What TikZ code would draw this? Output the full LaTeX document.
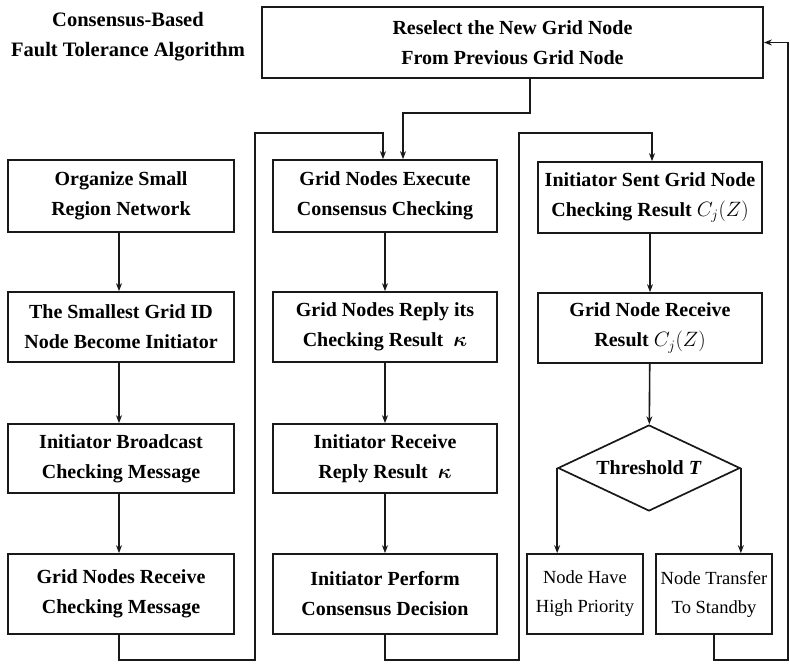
\documentclass[tikz,border=0pt]{standalone}
\usepackage{fontspec}
\setmainfont{Liberation Serif}
\usepackage{bm}
\usetikzlibrary{shapes.geometric,arrows.meta}

\begin{document}
\begin{tikzpicture}[x=1pt,y=-1pt,
  wire/.style={draw=black!90, line width=1.6pt},
  flow/.style={wire, -{Stealth[length=8pt,width=6pt]}},
  box/.style={draw=black!90, line width=1.7pt, inner sep=0pt, align=center,
    font=\fontsize{20}{30}\selectfont\bfseries},
  colbox/.style={box, minimum width=224pt},
  smallbox/.style={box, minimum width=116pt, minimum height=80pt,
    font=\fontsize{18.5}{29}\selectfont},
  decision/.style={box, diamond, aspect=2.12, minimum width=182pt, minimum height=86pt},
  title/.style={align=center, font=\fontsize{20.5}{30}\selectfont\bfseries}
]
\useasboundingbox (0,0) rectangle (790,664);

% heading
\node[title] (head) at (128,37) {Consensus-Based\\Fault Tolerance Algorithm};

% top box
\node[box, minimum width=501pt, minimum height=71pt] (top) at (512.5,42.5)
  {Reselect the New Grid Node\\From Previous Grid Node};

% first column
\node[colbox, minimum width=226pt, minimum height=72pt] (c1a) at (121,196) {Organize Small\\Region Network};
\node[colbox, minimum width=226pt, minimum height=70pt] (c1b) at (121,327) {The Smallest Grid ID\\Node Become Initiator};
\node[colbox, minimum width=226pt, minimum height=69pt] (c1c) at (121,458.5) {Initiator Broadcast\\Checking Message};
\node[colbox, minimum width=226pt, minimum height=80pt] (c1d) at (121,594) {Grid Nodes Receive\\Checking Message};

% second column
\node[colbox, minimum height=72pt] (c2a) at (385,196) {Grid Nodes Execute\\Consensus Checking};
\node[colbox, minimum height=70pt] (c2b) at (385,327) {Grid Nodes Reply its\\Checking Result~~$\bm{\kappa}$};
\node[colbox, minimum height=69pt] (c2c) at (385,458.5) {Initiator Receive\\Reply Result~~$\bm{\kappa}$};
\node[colbox, minimum height=80pt] (c2d) at (385,594) {Initiator Perform\\Consensus Decision};

% third column
\node[colbox, minimum height=71pt] (c3a) at (650,197.5) {Initiator Sent Grid Node\\Checking Result~{\mdseries$C_j(Z)$}};
\node[colbox, minimum height=70pt] (c3b) at (650,328) {Grid Node Receive\\Result~{\mdseries$C_j(Z)$}};
\node[decision] (dec) at (649,468) {Threshold \textit{T}};
\node[smallbox] (s1) at (585,594) {Node Have\\High Priority};
\node[smallbox] (s2) at (714,594) {Node Transfer\\To Standby};

% bend points of the connectors
\coordinate (ja) at (530,113);
\coordinate (jb) at (403,113);
\coordinate (la) at (119,660);
\coordinate (lb) at (255,660);
\coordinate (lc) at (255,133);
\coordinate (ld) at (383,133);
\coordinate (ma) at (385,660);
\coordinate (mb) at (519,660);
\coordinate (mc) at (519,133);
\coordinate (md) at (652,133);
\coordinate (ra) at (714,660);
\coordinate (rb) at (788,660);
\coordinate (rc) at (788,42.5);

% top box to the second column
\draw[flow] (top.south -| ja) -- (ja) -- (jb) -- (c2a.north -| jb);

% first column
\draw[flow] (c1a.south -| la) -- (c1b.north -| la);
\draw[flow] (c1b.south -| la) -- (c1c.north -| la);
\draw[flow] (c1c.south -| la) -- (c1d.north -| la);
\draw[flow] (c1d.south -| la) -- (la) -- (lb) -- (lc) -- (ld) -- (c2a.north -| ld);

% second column
\draw[flow] (c2a) -- (c2b);
\draw[flow] (c2b) -- (c2c);
\draw[flow] (c2c) -- (c2d);
\draw[flow] (c2d.south) -- (ma) -- (mb) -- (mc) -- (md) -- (c3a.north -| md);

% third column
\draw[flow] (c3a) -- (c3b);
\draw[flow] (c3b) -- (dec);
\draw[flow] (dec.west) -- (dec.west |- s1.north);
\draw[flow] (dec.east) -- (dec.east |- s2.north);
\draw[flow] (s2.south) -- (ra) -- (rb) -- (rc) -- (top.east);
\end{tikzpicture}
\end{document}
